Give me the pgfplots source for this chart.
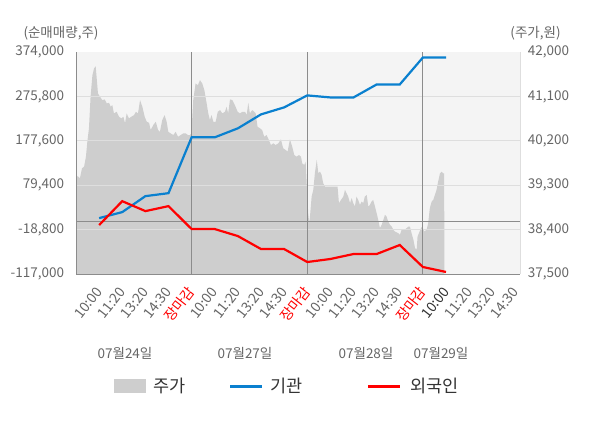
\documentclass[border=0pt]{standalone}
\usepackage{fontspec}
\setmainfont{Noto Sans CJK KR}
\usepackage{pgfplots}
\pgfplotsset{compat=1.18}
\definecolor{bgc}{HTML}{F4F4F4}
\definecolor{areac}{HTML}{CECECE}
\definecolor{gridc}{HTML}{DEDEDE}
\definecolor{darkl}{HTML}{8C8C8C}
\definecolor{labc}{HTML}{666666}
\definecolor{legc}{HTML}{333333}
\definecolor{bluec}{HTML}{0A80CF}
\definecolor{redc}{HTML}{FF0000}
\newcommand\tf{\fontsize{13.5bp}{16bp}\selectfont}
\newcommand\xf{\fontsize{14bp}{16bp}\selectfont}
\newcommand\lf{\fontsize{17.5bp}{20bp}\selectfont}

\pgfplotstableread{
x y
0.00 37500
0.00 39350
0.06 39488
0.17 39441
0.26 39643
0.35 39676
0.43 39878
0.49 40181
0.56 40452
0.63 41091
0.71 41530
0.78 41665
0.85 41712
0.89 41495
0.95 41160
1.04 41091
1.14 41024
1.24 41039
1.33 40958
1.43 40970
1.50 40889
1.57 40923
1.64 40755
1.76 40788
1.86 40687
1.96 40654
2.05 40687
2.12 40553
2.19 40755
2.29 40654
2.39 40687
2.51 40721
2.59 40788
2.68 40755
2.77 41024
2.87 40889
2.97 40687
3.06 40586
3.16 40565
3.23 40418
3.34 40519
3.45 40586
3.55 40418
3.63 40383
3.73 40620
3.83 40721
3.92 40586
3.99 40383
4.09 40351
4.21 40317
4.31 40383
4.41 40282
4.53 40317
4.64 40351
4.74 40351
4.84 40317
4.93 40317
4.99 40351
5.07 41024
5.17 41362
5.27 41328
5.36 41429
5.46 41362
5.55 41227
5.65 40958
5.72 40755
5.79 40620
5.86 40721
5.94 40586
6.04 40586
6.13 40788
6.23 40822
6.33 40755
6.44 40788
6.51 40889
6.58 40755
6.66 41039
6.76 41024
6.87 40923
6.99 40788
7.09 40755
7.19 40788
7.31 40788
7.38 40721
7.45 40970
7.52 40755
7.62 40822
7.71 40788
7.77 40755
7.85 40485
7.96 40452
8.05 40418
8.14 40282
8.24 40317
8.34 40216
8.43 40114
8.53 40149
8.63 40114
8.75 40149
8.86 40230
8.96 40048
9.07 40013
9.15 39979
9.25 40230
9.35 40080
9.44 39912
9.54 39878
9.64 39912
9.73 39878
9.78 39744
9.87 39710
9.93 39777
9.99 39205
10.04 38733
10.09 38531
10.13 38733
10.19 39069
10.26 39205
10.33 39542
10.41 39811
10.48 39542
10.55 39575
10.62 39508
10.69 39340
10.77 39271
11.05 39271
11.31 39271
11.37 38936
11.46 39002
11.56 39069
11.63 39205
11.70 39138
11.77 39069
11.85 38936
11.92 39037
11.99 38936
12.06 38867
12.13 39069
12.20 39002
12.28 38901
12.35 38968
12.42 38936
12.49 39069
12.57 39103
12.64 38867
12.71 38901
12.78 38968
12.85 39002
12.93 38867
13.00 38733
13.07 38598
13.14 38430
13.22 38497
13.29 38598
13.36 38699
13.43 38665
13.50 38564
13.58 38497
13.65 38462
13.72 38396
13.79 38361
13.93 38329
14.01 38295
14.08 38396
14.22 38396
14.37 38462
14.44 38462
14.51 38329
14.59 38194
14.66 38026
14.73 37991
14.77 38260
14.83 38329
14.92 38430
14.97 38462
15.06 38361
15.16 38396
15.23 38531
15.30 38835
15.38 38968
15.45 39002
15.52 39103
15.59 39205
15.66 39372
15.74 39542
15.81 39575
15.88 39542
15.92 39542
15.93 37500
}\pricetable

\pgfplotstableread{
x y
1 6600
2 19900
3 55200
4 61800
5 185300
6 185300
7 205200
8 236000
9 251500
10 278000
11 273500
12 273500
13 302200
14 302200
15 361800
16 361800
}\insttable

\pgfplotstableread{
x y
1 -8800
2 44100
3 22100
4 33100
5 -17600
6 -17600
7 -33100
8 -61800
9 -61800
10 -90500
11 -83800
12 -72800
13 -72800
14 -52900
15 -101500
16 -112500
}\fortable

\begin{document}
\begin{tikzpicture}[x=1bp,y=1bp]
\useasboundingbox (0,0) rectangle (600,428);
% price axis (right)
\begin{axis}[
  at={(76bp,154bp)}, anchor=south west,
  scale only axis, width=444bp, height=222bp,
  xmin=0, xmax=19.2, ymin=37500, ymax=42000,
  scaled y ticks=false, scaled x ticks=false,
  axis on top,
  axis background/.style={fill=bgc},
  axis x line=none, axis y line*=right,
  axis line style={-, draw=gridc, line width=1bp},
  every outer y axis line/.append style={-},
  ytick={37500,38400,39300,40200,41100,42000},
  yticklabels={{37,500},{38,400},{39,300},{40,200},{41,100},{42,000}},
  yticklabel style={font=\tf, text=labc, anchor=west, inner sep=0pt, xshift=7.7bp},
  ytick style={draw=none},
  extra y ticks={38400,39300,40200,41100},
  extra y tick labels={},
  extra y tick style={grid=major, major grid style={draw=gridc, line width=1bp}, tick style={draw=none}},
]
\addplot[fill=areac, draw=none] table[x=x,y=y] {\pricetable} -- cycle;
\end{axis}
% net buying axis (left)
\begin{axis}[
  at={(76bp,154bp)}, anchor=south west,
  scale only axis, width=444bp, height=222bp,
  xmin=0, xmax=19.2, ymin=-117000, ymax=374000,
  scaled y ticks=false, scaled x ticks=false,
  axis y line*=left, axis x line*=bottom,
  axis line style={-, draw=darkl, line width=1bp},
  every outer x axis line/.append style={-},
  every outer y axis line/.append style={-},
  ytick={-117000,-18800,79400,177600,275800,374000},
  yticklabels={{-117,000},{-18,800},{79,400},{177,600},{275,800},{374,000}},
  yticklabel style={font=\tf, text=labc, anchor=east, inner sep=0pt, xshift=-11.7bp},
  ytick style={draw=none},
  xtick={1,...,19},
  xticklabels={10:00,11:20,13:20,14:30,\textcolor{redc}{장마감},10:00,11:20,13:20,14:30,\textcolor{redc}{장마감},10:00,11:20,13:20,14:30,\textcolor{redc}{장마감},\textcolor{legc}{10:00},11:20,13:20,14:30},
  xticklabel style={font=\xf, text=labc, inner sep=0pt, yshift=-15bp, rotate=52, anchor=east},
  xtick style={draw=none},
  extra x ticks={0,5,10,15},
  extra x tick labels={},
  extra x tick style={grid=major, major grid style={draw=darkl, line width=1bp}, tick style={draw=darkl, line width=1bp}, major tick length=4bp, tick align=outside},
  extra y ticks={0},
  extra y tick labels={},
  extra y tick style={grid=major, major grid style={draw=darkl, line width=1bp}, tick style={draw=none}},
]
\addplot[draw=bluec, line width=2.2bp] table[x=x,y=y] {\insttable};
\addplot[draw=redc, line width=2.2bp] table[x=x,y=y] {\fortable};
\end{axis}
% axis titles
\node[font=\tf, text=labc] at (61,395) {(순매매량,주)};
\node[font=\tf, text=labc] at (535.5,395) {(주가,원)};
% date labels
\node[font=\tf, text=labc] at (125,75) {07월24일};
\node[font=\tf, text=labc] at (245,75) {07월27일};
\node[font=\tf, text=labc] at (366,75) {07월28일};
\node[font=\tf, text=labc] at (441,75) {07월29일};
% legend
\fill[areac] (114,35) rectangle (146,49);
\node[font=\lf, text=legc, anchor=west, inner sep=0pt] at (153,42) {주가};
\draw[bluec, line width=3bp] (230,42) -- (262,42);
\node[font=\lf, text=legc, anchor=west, inner sep=0pt] at (270,42) {기관};
\draw[redc, line width=3bp] (368,42) -- (400,42);
\node[font=\lf, text=legc, anchor=west, inner sep=0pt] at (410,42) {외국인};
\end{tikzpicture}
\end{document}
